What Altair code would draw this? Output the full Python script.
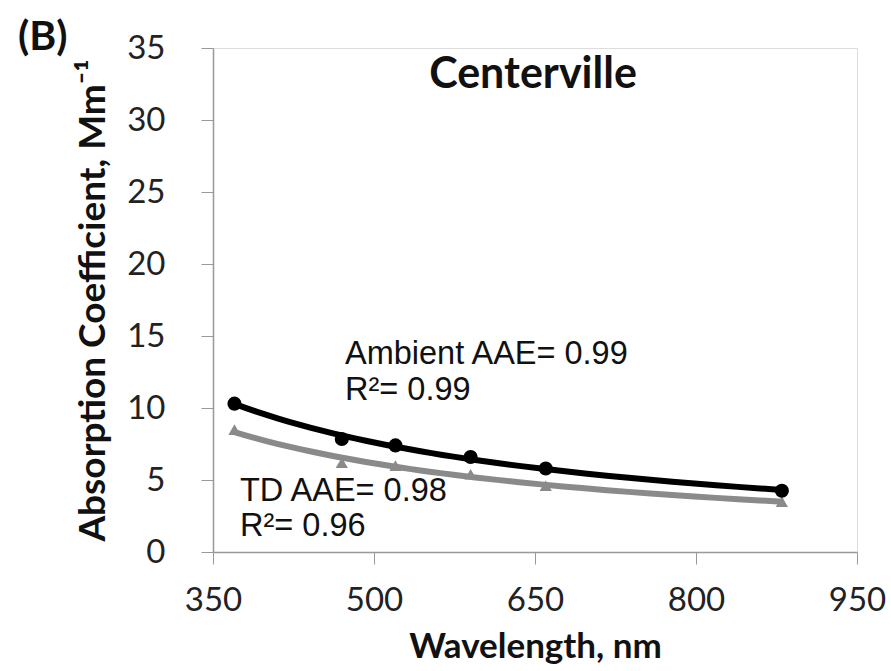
import altair as alt
import pandas as pd

wavelengths = [370, 470, 520, 590, 660, 880]
ambient = [10.3, 7.85, 7.4, 6.6, 5.8, 4.25]
td = [8.5, 6.2, 6.0, 5.4, 4.6, 3.5]

df_amb = pd.DataFrame({"wl": wavelengths, "val": ambient})
df_td = pd.DataFrame({"wl": wavelengths, "val": td})

LAB_FONT = "Lato"
TXT_FONT = "Liberation Sans"

xs = alt.Scale(domain=[350, 950], nice=False, zero=False)
ys = alt.Scale(domain=[0, 35], nice=False)

x_enc = alt.X("wl:Q", scale=xs, axis=alt.Axis(
    title="Wavelength, nm", values=[350, 500, 650, 800, 950], grid=False,
    labelFontSize=33, labelFont=LAB_FONT, labelColor="#222", labelPadding=20,
    labelFlush=False, labelOverlap=False,
    tickSize=12, tickColor="#999", domainColor="#999", domainWidth=1.5,
    titleFontSize=35, titleFont=LAB_FONT, titleFontWeight="bold", titleColor="#111",
    titlePadding=12))
y_enc = alt.Y("val:Q", scale=ys, axis=alt.Axis(
    title="Absorption Coefficient, Mm\u207b\u00b9", values=[0, 5, 10, 15, 20, 25, 30, 35], grid=False,
    labelFontSize=33, labelFont=LAB_FONT, labelColor="#222", labelPadding=36,
    labelFlush=False, labelOverlap=False,
    tickSize=12, tickColor="#999", domainColor="#999", domainWidth=1.5,
    titleFontSize=37, titleFont=LAB_FONT, titleFontWeight="bold", titleColor="#111",
    titlePadding=14))

base_amb = alt.Chart(df_amb)
base_td = alt.Chart(df_td)

fit_td = base_td.transform_regression("wl", "val", method="pow").mark_line(
    color="#8a8a8a", strokeWidth=6).encode(x=x_enc, y=y_enc)
pts_td = base_td.mark_point(shape="triangle-up", filled=True, size=150, color="#8a8a8a", opacity=1).encode(x=x_enc, y=y_enc)

fit_amb = base_amb.transform_regression("wl", "val", method="pow").mark_line(
    color="#000000", strokeWidth=6).encode(x=x_enc, y=y_enc)
pts_amb = base_amb.mark_point(shape="circle", filled=True, size=200, color="#000000", opacity=1).encode(x=x_enc, y=y_enc)

def label(txt, x, y, size=32.5, font=TXT_FONT, weight="normal", align="left"):
    return alt.Chart(pd.DataFrame({"t": [txt]})).mark_text(
        align=align, baseline="middle", fontSize=size, font=font, fontWeight=weight, color="#111"
    ).encode(text="t:N", x=alt.value(x), y=alt.value(y))

texts = [
    label("Centerville", 320, 27, size=43, font=LAB_FONT, weight="bold", align="center"),
    label("Ambient AAE= 0.99", 132, 306),
    label("R\u00b2= 0.99", 132, 342),
    label("TD AAE= 0.98", 27, 443),
    label("R\u00b2= 0.96", 27, 478),
    label("(B)", -195, -10, size=41, font=LAB_FONT, weight="bold"),
]

chart = alt.layer(fit_td, pts_td, fit_amb, pts_amb, *texts).properties(
    width=644, height=504,
    autosize=alt.AutoSizeParams(type="none"),
    padding={"left": 213, "top": 48, "right": 34, "bottom": 119},
).configure_view(stroke="#999", strokeWidth=1.5).configure(background="white")

chart.save("out.html", embed_options={"renderer": "svg", "actions": False})
